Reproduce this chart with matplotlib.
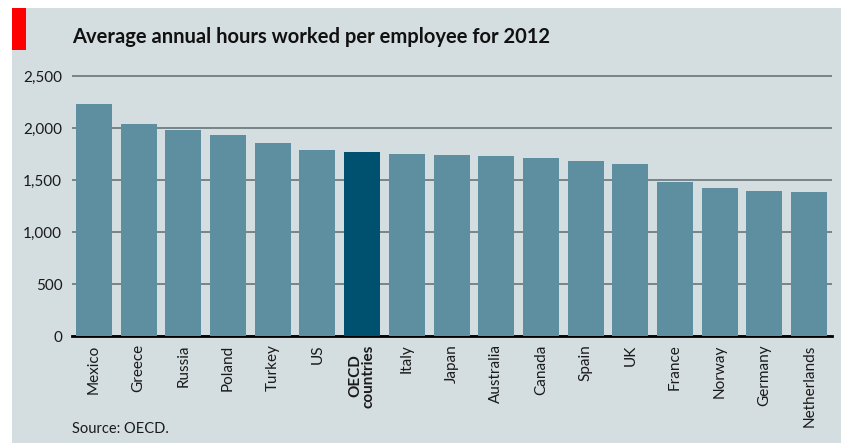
import matplotlib.pyplot as plt
from matplotlib.patches import Rectangle

# Datos (horas anuales por empleado, 2012)
countries = ["Mexico", "Greece", "Russia", "Poland", "Turkey", "US", "OECD\ncountries",
             "Italy", "Japan", "Australia", "Canada", "Spain", "UK", "France",
             "Norway", "Germany", "Netherlands"]
hours = [2226, 2034, 1982, 1929, 1855, 1790, 1765, 1752, 1745, 1728, 1710,
         1686, 1654, 1479, 1420, 1397, 1381]
highlight = "OECD\ncountries"
yticks = [0, 500, 1000, 1500, 2000, 2500]

BG = "#d4dde0"
BAR = "#5e8fa1"
BAR_HI = "#00506f"

plt.rcParams['font.family'] = ['Lato', 'DejaVu Sans']

W, H = 853, 444
fig = plt.figure(figsize=(W / 100, H / 100), dpi=100)
fig.patch.set_facecolor("white")

# fondo gris y marca roja
fig.patches.append(Rectangle((12 / W, 1 - 443 / H), (841 - 12) / W, (443 - 8) / H,
                             transform=fig.transFigure, facecolor=BG, edgecolor="none", zorder=-2))
fig.patches.append(Rectangle((12 / W, 1 - 50 / H), 14 / W, 42 / H,
                             transform=fig.transFigure, facecolor="#ff0000", edgecolor="none", zorder=-1))

ymax = 2520
top_px = 336 - ymax * 0.104
ax = fig.add_axes([72 / W, 1 - 336 / H, (832 - 72) / W, (336 - top_px) / H])
ax.set_facecolor("none")

colors = [BAR_HI if c == highlight else BAR for c in countries]
x = list(range(len(countries)))
ax.bar(x, hours, width=0.805, color=colors, zorder=3)

ax.set_ylim(0, ymax)
ax.set_xlim(-0.49, len(countries) - 1 + 0.51)
ax.set_yticks(yticks)
ax.set_yticklabels([f"{v:,}" for v in yticks], fontsize=11, color="#1a1a1a")
ax.yaxis.grid(True, color="#5f6d71", linewidth=1.1, zorder=1)
ax.set_axisbelow(True)
for s in ["top", "right", "left"]:
    ax.spines[s].set_visible(False)
ax.spines["bottom"].set_color("black")
ax.spines["bottom"].set_linewidth(2)
ax.spines["bottom"].set_zorder(2)
ax.tick_params(axis="both", length=0)
ax.tick_params(axis="y", pad=7)
ax.tick_params(axis="x", pad=6)

ax.set_xticks(x)
ax.set_xticklabels(countries, rotation=90, fontsize=11, color="#1a1a1a",
                   linespacing=0.95)
for lbl in ax.get_xticklabels():
    if lbl.get_text() == highlight:
        lbl.set_fontweight("bold")

fig.text(72 / W, 1 - 43 / H, "Average annual hours worked per employee for 2012",
         fontsize=14.5, fontweight="bold", color="#111111", va="baseline", ha="left")
fig.text(72 / W, 1 - 433 / H, "Source: OECD.", fontsize=10.5, color="#1a1a1a",
         va="baseline", ha="left")

fig.savefig("out.png", dpi=100, facecolor=fig.get_facecolor())
